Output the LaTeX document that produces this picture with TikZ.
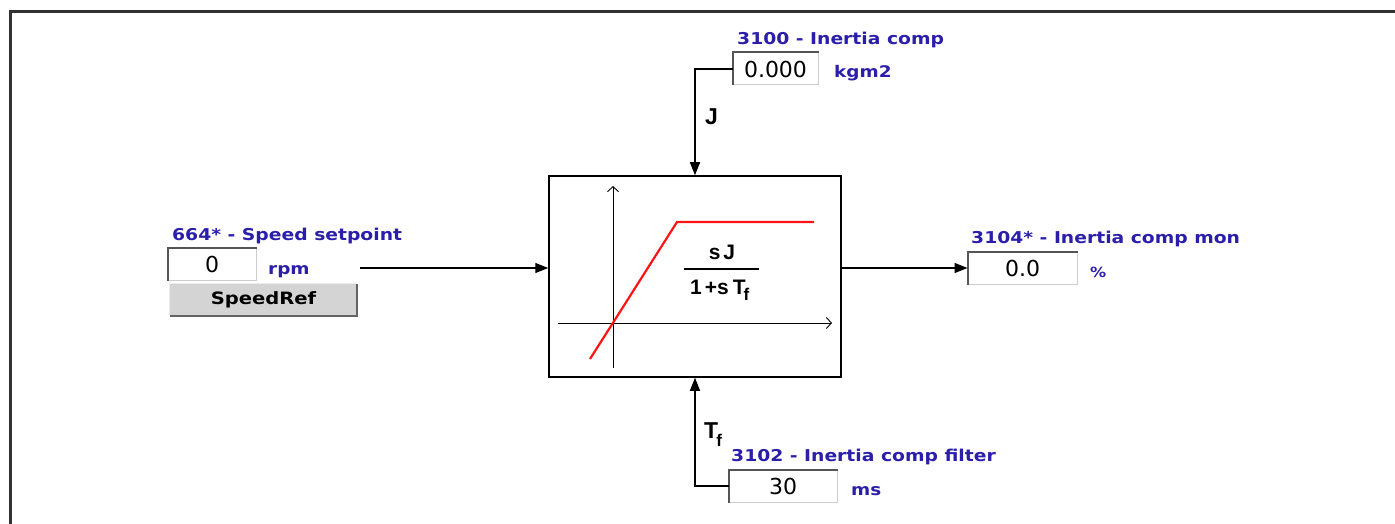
\documentclass[tikz,border=0pt]{standalone}
\usepackage{fontspec}
\setmainfont{Liberation Sans}
\newfontfamily\vfont[FakeStretch=1.15]{DejaVu Sans}
\newfontfamily\numfont{DejaVu Sans}
\usetikzlibrary{arrows.meta}
\definecolor{lblue}{RGB}{42,30,170}
\definecolor{frameg}{RGB}{50,50,50}
\definecolor{btngray}{RGB}{212,212,212}
\definecolor{redline}{RGB}{255,20,20}
\tikzset{
  lbl/.style={anchor=base west, text=lblue, font=\vfont\bfseries\fontsize{16.3}{18}\selectfont, inner sep=0pt},
  unit/.style={anchor=base west, text=lblue, font=\vfont\bfseries\fontsize{16}{18}\selectfont, inner sep=0pt},
  valbox/.style={rectangle, fill=white, draw={rgb,255:red,205;green,205;blue,205}, line width=1pt, font=\numfont\fontsize{22}{24}\selectfont, inner sep=0pt},
  sig/.style={line width=1.4pt, draw=black},
  arr/.style={sig, -{Triangle[length=13pt,width=10pt]}},
  axis/.style={line width=0.9pt, -{Straight Barb[length=5pt,width=11pt,line width=0.9pt]}},
  big/.style={font=\bfseries\fontsize{23}{25}\selectfont, inner sep=0pt, anchor=base west},
  tf/.style={font=\bfseries\fontsize{21}{23}\selectfont, inner sep=0pt},
}
\newcommand{\sunken}[1]{\draw[line width=2pt,draw={rgb,255:red,85;green,85;blue,85}] (#1.south west) -- (#1.north west) -- (#1.north east);}
\begin{document}
\begin{tikzpicture}[x=1pt,y=-1pt]
\useasboundingbox (0,0) rectangle (1395,524);
% frame
\draw[frameg, line width=2.5pt] (10.5,524) -- (10.5,11.5) -- (1395,11.5);
% main block
\node[draw=black, line width=1.5pt, minimum width=292pt, minimum height=201pt, inner sep=0pt] (blk) at (695,276.5) {};
% axes
\coordinate (ax0) at (613,368);
\coordinate (ay1) at (613,186);
\coordinate (ax1) at (558,323);
\coordinate (ax2) at (832,323);
\draw[axis] (ax0) -- (ay1);
\draw[axis] (ax1) -- (ax2);
\coordinate (r0) at (590,359);
\coordinate (r1) at (677,222);
\coordinate (r2) at (814,222);
\draw[redline, line width=2.2pt] (r0) -- (r1) -- (r2);
% transfer function
\node[tf, anchor=base] (num) at (722,259) {s\kern3pt J};
\coordinate (fl0) at (684,269);
\coordinate (fl1) at (759,269);
\draw[line width=1.2pt] (fl0) -- (fl1);
\node[tf, anchor=base west] (den) at (690,294) {1\kern3pt+s\kern4pt T\kern-2pt\raisebox{-6pt}{\fontsize{17}{17}\selectfont f}};
% input
\node[lbl] (l1) at (172,240) {664* - Speed setpoint};
\node[valbox, minimum width=88pt, minimum height=32pt] (v0) at (212,264) {0};
\sunken{v0}
\node[unit] (u0) at (268,274) {rpm};
\node[rectangle, fill=btngray, minimum width=187pt, minimum height=32pt, inner sep=0pt, font=\vfont\fontsize{17}{18}\selectfont\bfseries] (btn) at (263.5,300) {SpeedRef};
\draw[line width=1pt, draw={rgb,255:red,235;green,235;blue,235}] (btn.south west) -- (btn.north west) -- (btn.north east);
\draw[line width=1.8pt, draw={rgb,255:red,100;green,100;blue,100}] (btn.north east) -- (btn.south east) -- (btn.south west);
\coordinate (sin) at (360,268);
\draw[arr] (sin) -- (sin -| blk.west);
% top J
\node[lbl] (l2) at (737,45) {3100 - Inertia comp};
\node[valbox, minimum width=85pt, minimum height=32pt] (v1) at (775.5,69) {0.000};
\sunken{v1}
\node[unit] (u1) at (834,78) {kgm2};
\draw[arr] (v1.west) -| (blk.north);
\node[big] (jl) at (705,125) {J};
% output
\node[lbl] (l3) at (971,243) {3104* - Inertia comp mon};
\node[valbox, minimum width=109pt, minimum height=32pt] (v2) at (1022.5,268) {0.0};
\sunken{v2}
\node[unit, font=\vfont\bfseries\fontsize{14}{16}\selectfont] (u2) at (1090,277) {\%};
\draw[arr] (v2.west -| blk.east) -- (v2.west);
% bottom Tf
\node[lbl] (l4) at (731,461) {3102 - Inertia comp filter};
\node[valbox, minimum width=108pt, minimum height=32pt] (v3) at (783,486) {30};
\sunken{v3}
\node[unit] (u3) at (851,495) {ms};
\draw[arr] (v3.west) -| (blk.south);
\node[big] (tl) at (704,438) {T\kern-2pt\raisebox{-8pt}{\fontsize{17}{17}\selectfont f}};
\end{tikzpicture}
\end{document}
